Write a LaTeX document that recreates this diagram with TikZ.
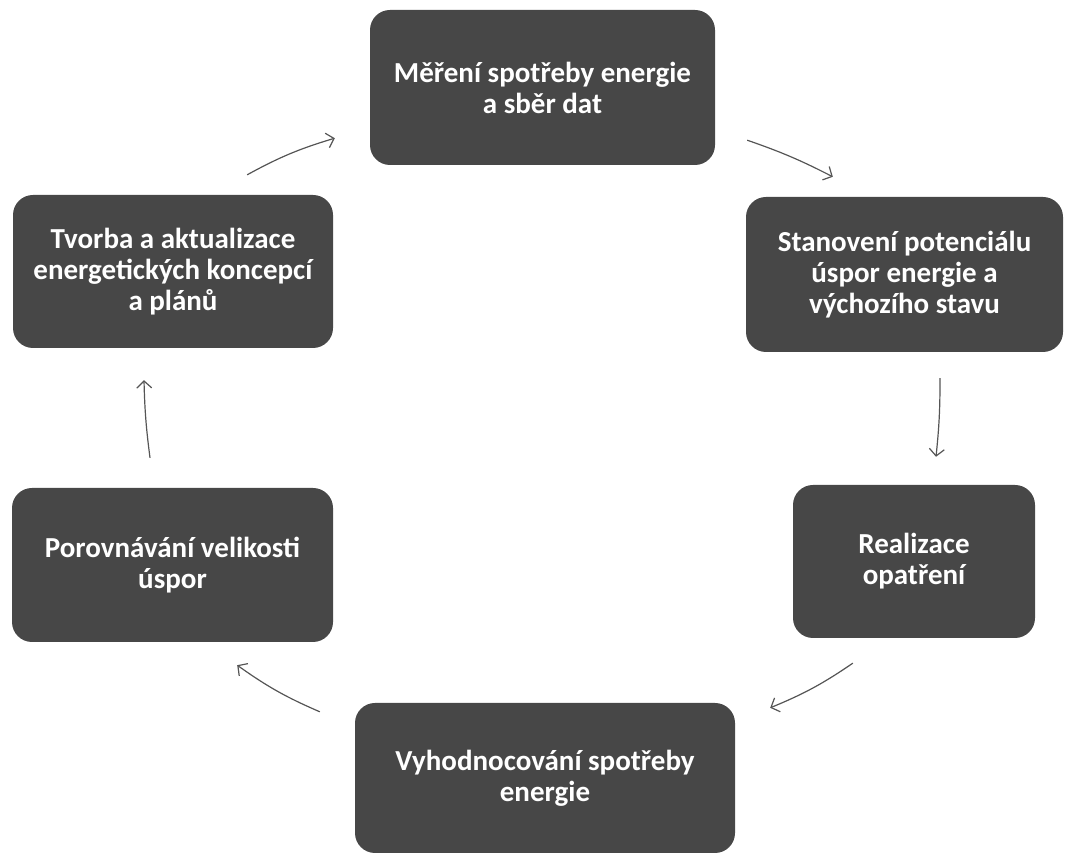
\documentclass[tikz,border=0pt]{standalone}
\usepackage{fontspec}
\setmainfont{Carlito}
\usetikzlibrary{arrows.meta}
\definecolor{boxgray}{RGB}{71,71,71}
\definecolor{arrowgray}{RGB}{85,85,85}

\begin{document}
\begin{tikzpicture}[x=1pt,y=1pt]
            \tikzset{box/.style = {shape=rectangle, rounded corners=20pt, fill=boxgray, text=white,
                font=\fontsize{29}{31}\selectfont\bfseries, align=center, inner sep=0pt}}
            \tikzset{flow/.style = {draw=arrowgray, line width=1.2pt, -{Straight Barb[length=7pt,width=15pt]}}}
            \useasboundingbox (0,0) rectangle (1065,853);
            \node[box, minimum width=345pt, minimum height=155pt] (mereni) at (542.5, 765.5) {Měření spotřeby energie\\a sběr dat};
            \node[box, minimum width=317pt, minimum height=155pt] (stanoveni) at (904.5, 578.5) {Stanovení potenciálu\\úspor energie a\\výchozího stavu};
            \node[box, minimum width=242pt, minimum height=153pt] (realizace) at (914, 291.5) {Realizace\\opatření};
            \node[box, minimum width=380pt, minimum height=150pt] (vyhodnoceni) at (545, 75) {Vyhodnocování spotřeby\\energie};
            \node[box, minimum width=321pt, minimum height=154pt] (porovnani) at (172.5, 288) {Porovnávání velikosti\\úspor};
            \node[box, minimum width=320pt, minimum height=153pt] (tvorba) at (173, 581.5) {Tvorba a aktualizace\\energetických koncepcí\\a plánů};
            \draw[flow] ([shift={(-86,20)}]tvorba.north east) to[bend left=6] ([shift={(-35,27)}]mereni.south west);
            \draw[flow] ([shift={(32,25)}]mereni.south east) to[bend left=4] ([shift={(87,20)}]stanoveni.north west);
            \draw[flow] ([shift={(35.5,-26)}]stanoveni.south) to[bend left=3] ([shift={(22,28)}]realizace.north);
            \draw[flow] ([shift={(60,-25)}]realizace.south west) to[bend left=6] ([shift={(35,-5)}]vyhodnoceni.north east);
            \draw[flow] ([shift={(-35,-9)}]vyhodnoceni.north west) to[bend left=6] ([shift={(-96,-23)}]porovnani.south east);
            \draw[flow] ([shift={(-22.5,30)}]porovnani.north) to[bend left=3] ([shift={(-29,-32)}]tvorba.south);
          \end{tikzpicture}
\end{document}
